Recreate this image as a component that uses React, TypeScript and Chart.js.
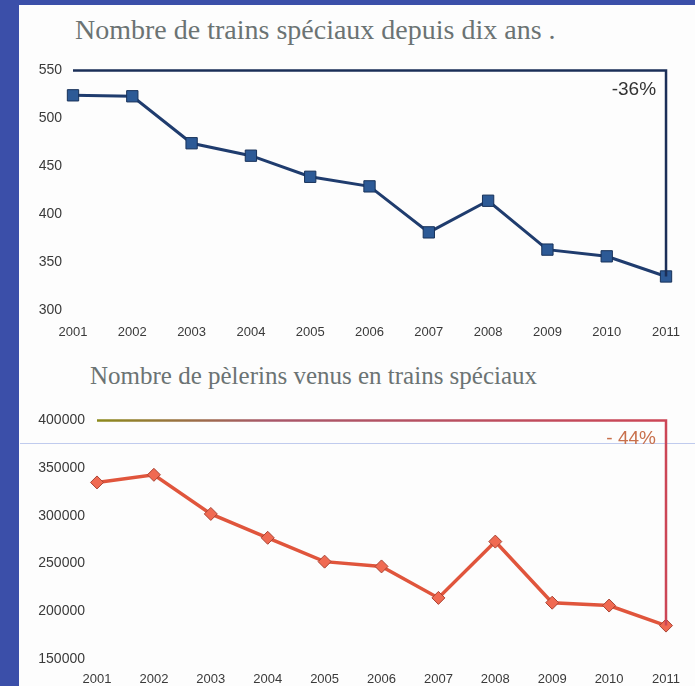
import React, { useEffect, useRef } from "react";
import { Chart, registerables } from "chart.js";

Chart.register(...registerables);

// ---- data ----
const years = [2001, 2002, 2003, 2004, 2005, 2006, 2007, 2008, 2009, 2010, 2011];
const trains = [524, 523, 474, 461, 439, 429, 381, 414, 363, 356, 335];
const pilgrims = [335000, 343000, 302000, 277000, 252000, 247000, 214000, 273000, 209000, 206000, 185000];

const trainsTicks = { min: 300, max: 550, step: 50 };
const pilgrimsTicks = { min: 150000, max: 400000, step: 50000 };

const trainsRef = 550;
const pilgrimsRef = 400000;
const trainsChange = "-36%";
const pilgrimsChange = "- 44%";
const trainsChangeAt = 530;
const pilgrimsChangeAt = 381000;

const trainsTitle = "Nombre de trains spéciaux depuis dix ans .";
const pilgrimsTitle = "Nombre de pèlerins venus en trains spéciaux";

const SANS = '"Liberation Sans", Arial, sans-serif';
const SERIF = '"Liberation Serif", "Times New Roman", serif';

function changeLabelPlugin(text: string, color: string, yValue: number, size: number) {
  return {
    id: "changeLabel",
    afterDatasetsDraw(chart: any) {
      const { ctx, scales } = chart;
      const x = scales.x.getPixelForValue(years[years.length - 1]) - 10;
      const y = scales.y.getPixelForValue(yValue);
      ctx.save();
      ctx.font = `${size}px ${SANS}`;
      ctx.fillStyle = color;
      ctx.textAlign = "right";
      ctx.textBaseline = "middle";
      ctx.fillText(text, x, y);
      ctx.restore();
    },
  };
}

type Cfg = {
  values: number[];
  ref: number;
  ticks: { min: number; max: number; step: number };
  lineColor: string;
  lineWidth: number;
  pointStyle: string;
  pointRadius: number;
  pointFill: string;
  pointBorder: string;
  refColor: any;
  yWidth: number;
  xHeight: number;
  xPad: number;
  yPad: number;
  padding: { top: number; right: number; left: number; bottom: number };
  label: string;
  labelColor: string;
  labelAt: number;
  labelSize: number;
};

function LineChart({ width, height, cfg }: { width: number; height: number; cfg: Cfg }) {
  const ref = useRef<HTMLCanvasElement | null>(null);
  useEffect(() => {
    if (!ref.current) return;
    const last = years.length - 1;
    const chart = new Chart(ref.current, {
      type: "line",
      data: {
        datasets: [
          {
            data: [
              { x: years[0], y: cfg.ref },
              { x: years[last], y: cfg.ref },
              { x: years[last], y: cfg.values[last] },
            ],
            borderColor: cfg.refColor,
            borderWidth: 2.5,
            pointRadius: 0,
            tension: 0,
            clip: false,
          },
          {
            data: years.map((y, i) => ({ x: y, y: cfg.values[i] })),
            borderColor: cfg.lineColor,
            borderWidth: cfg.lineWidth,
            pointStyle: cfg.pointStyle as any,
            pointRadius: cfg.pointRadius,
            pointBackgroundColor: cfg.pointFill,
            pointBorderColor: cfg.pointBorder,
            pointBorderWidth: 1,
            tension: 0,
            clip: false,
          },
        ],
      },
      options: {
        responsive: false,
        animation: false,
        layout: { padding: cfg.padding },
        plugins: { legend: { display: false }, tooltip: { enabled: false }, title: { display: false } },
        scales: {
          x: {
            type: "linear",
            min: years[0],
            max: years[last],
            grid: { display: false, drawTicks: false },
            border: { display: false },
            afterFit: (s: any) => {
              s.height = cfg.xHeight;
            },
            ticks: {
              stepSize: 1,
              autoSkip: false,
              maxRotation: 0,
              padding: cfg.xPad,
              color: "#3a3a3a",
              font: { family: SANS, size: 13 },
              callback: (v: any) => String(v),
            },
          },
          y: {
            min: cfg.ticks.min,
            max: cfg.ticks.max,
            grid: { display: false, drawTicks: false },
            border: { display: false },
            afterFit: (s: any) => {
              s.width = cfg.yWidth;
            },
            ticks: {
              stepSize: cfg.ticks.step,
              padding: cfg.yPad,
              color: "#3a3a3a",
              font: { family: SANS, size: 14 },
              callback: (v: any) => String(v),
            },
          },
        },
      },
      plugins: [changeLabelPlugin(cfg.label, cfg.labelColor, cfg.labelAt, cfg.labelSize)],
    } as any);
    return () => chart.destroy();
  }, []);
  return <canvas ref={ref} width={width} height={height} style={{ display: "block", width, height }} />;
}

const pilgrimsRefColor = (c: any) => {
  const chart = c.chart;
  const area = chart.chartArea;
  if (!area) return "#c04860";
  const g = chart.ctx.createLinearGradient(area.left, 0, area.right, 0);
  g.addColorStop(0, "#8c8a1c");
  g.addColorStop(0.3, "#a8586a");
  g.addColorStop(1, "#cc4656");
  return g;
};

export default function App() {
  useEffect(() => {
    document.body.style.margin = "0";
  }, []);

  const topCfg: Cfg = {
    values: trains,
    ref: trainsRef,
    ticks: trainsTicks,
    lineColor: "#1f3c6e",
    lineWidth: 3,
    pointStyle: "rect",
    pointRadius: 8,
    pointFill: "#2d5a96",
    pointBorder: "#18325a",
    refColor: "#1b2f58",
    yWidth: 53,
    xHeight: 40,
    xPad: 15,
    yPad: 11,
    padding: { top: 10, right: 17, left: 0, bottom: 0 },
    label: trainsChange,
    labelColor: "#333333",
    labelAt: trainsChangeAt,
    labelSize: 19,
  };

  const bottomCfg: Cfg = {
    values: pilgrims,
    ref: pilgrimsRef,
    ticks: pilgrimsTicks,
    lineColor: "#e0553c",
    lineWidth: 3.5,
    pointStyle: "rectRot",
    pointRadius: 6.5,
    pointFill: "#f06a52",
    pointBorder: "#a84434",
    refColor: pilgrimsRefColor,
    yWidth: 77,
    xHeight: 27,
    xPad: 13,
    yPad: 12,
    padding: { top: 17, right: 29, left: 0, bottom: 0 },
    label: pilgrimsChange,
    labelColor: "#c8704c",
    labelAt: pilgrimsChangeAt,
    labelSize: 19,
  };

  return (
    <div
      style={{
        position: "fixed",
        left: 0,
        top: 0,
        width: 695,
        height: 686,
        background: "#3b4fa9",
        overflow: "hidden",
      }}
    >
      <div style={{ position: "absolute", left: 19, top: 5, width: 676, height: 681, background: "#fdfdfd" }} />
      <div style={{ position: "absolute", left: 20, top: 443, width: 675, height: 1, background: "#c0cbee" }} />
      <div
        style={{
          position: "absolute",
          left: 75,
          top: 12,
          fontFamily: SERIF,
          fontSize: 28,
          lineHeight: "36px",
          color: "#6b7373",
          whiteSpace: "nowrap",
        }}
      >
        {trainsTitle}
      </div>
      <div
        style={{
          position: "absolute",
          left: 90,
          top: 360,
          fontFamily: SERIF,
          fontSize: 25,
          lineHeight: "32px",
          color: "#6b7373",
          whiteSpace: "nowrap",
        }}
      >
        {pilgrimsTitle}
      </div>
      <div style={{ position: "absolute", left: 20, top: 51 }}>
        <LineChart width={675} height={299} cfg={topCfg} />
      </div>
      <div style={{ position: "absolute", left: 20, top: 400 }}>
        <LineChart width={675} height={286} cfg={bottomCfg} />
      </div>
    </div>
  );
}
